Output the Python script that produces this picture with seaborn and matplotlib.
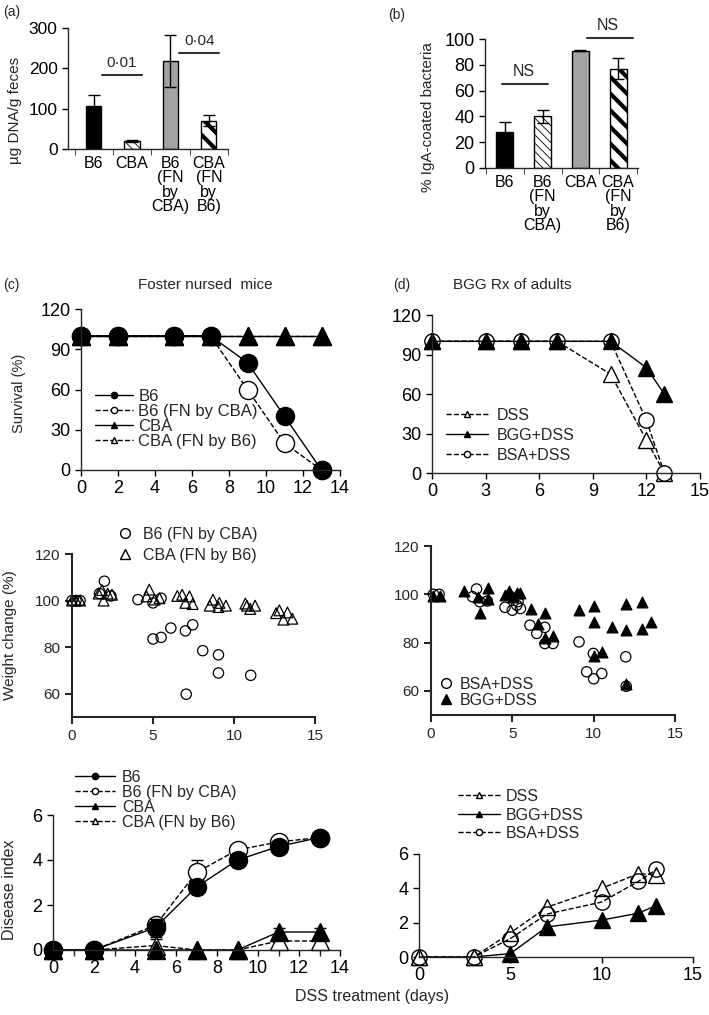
# plot.py
# Foster nursing / BGG figure: bars (a, b), survival, weight change and disease index

import matplotlib
matplotlib.use("Agg")
import matplotlib.pyplot as plt
from matplotlib.lines import Line2D
import seaborn as sns

sns.set_style("ticks")
plt.rcParams['font.family'] = ['Liberation Sans', 'DejaVu Sans']
plt.rcParams['axes.linewidth'] = 1.0

W, H = 709, 1015

# ---------------- data ----------------
# (a) bacterial DNA in feces
a_labels = ["B6", "CBA", "B6\n(FN\nby\nCBA)", "CBA\n(FN\nby\nB6)"]
a_values = [107, 20, 218, 70]
a_errors = [26, 3, 64, 14]

# (b) IgA-coated bacteria
b_labels = ["B6", "B6\n(FN\nby\nCBA)", "CBA", "CBA\n(FN\nby\nB6)"]
b_values = [28, 40, 91, 77]
b_errors = [8, 5, 0.6, 8]

# (c) survival, foster nursed mice
c_days = [0, 2, 5, 7, 9, 11, 13]
c_b6 = [100, 100, 100, 100, 80, 40, 0]
c_b6_fn = [100, 100, 100, 100, 60, 20, 0]
c_cba = [100, 100, 100, 100, 100, 100, 100]
c_cba_fn = [100, 100, 100, 100, 100, 100, 100]

# (d) survival, BGG treatment of adults
d_days = [0, 3, 5, 7, 10, 12, 13]
d_dss = [100, 100, 100, 100, 75, 25, 0]
d_bgg = [100, 100, 100, 100, 100, 80, 60]
d_bsa = [100, 100, 100, 100, 100, 40, 0]

# weight change, foster nursed (individual mice)
wl_circ_x = [0, 0.25, 0.5, 1.7, 2.0, 2.4, 4.07, 5.0, 5.0, 5.5, 5.5, 6.1, 7.0, 7.45, 7.05,
             8.07, 9.04, 9.04, 11.03]
wl_circ_y = [100, 100, 100, 103, 108.3, 102, 100.4, 99, 83.5, 84.2, 101, 88.2, 87.0, 89.6, 59.8,
             78.5, 76.7, 68.9, 67.9]
wl_tri_x = [0, 0.25, 0.5, 1.64, 1.85, 1.95, 2.2, 2.47, 4.6, 4.77, 5.1, 5.4, 6.5, 6.8, 7.0,
            7.25, 7.45, 8.5, 8.7, 9.04, 9.1, 9.5, 10.7, 10.8, 11.0, 11.3, 12.6, 12.8, 13.05,
            13.3, 13.6]
wl_tri_y = [100, 100, 100, 103, 104.5, 100, 103, 102.5, 101.8, 104.7, 100.4, 101, 102, 102.5, 99,
            101.8, 98.5, 97.8, 100.4, 97.2, 99, 97.8, 98.7, 97.8, 96.4, 97.8, 94.6, 95.8, 91.8,
            94.9, 92.2]

# weight change, BGG / BSA treated adults
wr_bsa_x = [0.15, 0.5, 2.55, 2.8, 3.0, 3.46, 4.55, 5.0, 5.27, 5.35, 5.5, 6.08, 6.5, 7.0, 7.0,
            7.5, 9.1, 9.57, 9.98, 10.0, 10.5, 11.97, 12.0]
wr_bsa_y = [100, 100, 99, 102.2, 96.9, 97.2, 94.6, 93.4, 95.5, 97, 94.1, 87.2, 83.8, 86.3, 79.6,
            79.6, 80.3, 67.9, 75.5, 65.0, 67.2, 74.1, 61.9]
wr_bgg_x = [0.15, 0.55, 2.05, 2.9, 3.0, 3.48, 3.5, 4.55, 4.77, 5.02, 5.27, 5.5, 6.13, 6.6, 7.03,
            7.03, 7.48, 9.08, 10.04, 10.04, 10.04, 10.5, 11.1, 11.97, 11.97, 11.97, 13.0, 13.0,
            13.5]
wr_bgg_y = [99.3, 99.3, 101.3, 99, 92.3, 97.9, 102.7, 99.7, 101.5, 99, 100.6, 100.4, 93.7, 87.5,
            92.1, 82.1, 82.8, 93.4, 95.1, 88.6, 74.4, 75.9, 86.5, 95.9, 85.1, 63.0, 96.9, 85.8,
            88.6]

# disease index, foster nursed
dl_days = [0, 2, 5, 7, 9, 11, 13]
dl_b6 = [0, 0, 1.0, 2.8, 4.0, 4.6, 5.0]
dl_b6_err = [0, 0, 0.4, 0.3, 0.2, 0.1, 0]
dl_b6_fn = [0, 0, 1.1, 3.45, 4.45, 4.8, 5.0]
dl_b6_fn_err = [0, 0, 0.3, 0.55, 0.2, 0.1, 0]
dl_cba = [0, 0, 0, 0, 0, 0.8, 0.8]
dl_cba_err = [0, 0, 0, 0, 0, 0.2, 0.2]
dl_cba_fn = [0, 0, 0.2, 0, 0, 0.4, 0.4]
dl_cba_fn_err = [0, 0, 0.3, 0, 0, 0.2, 0.2]

# disease index, BGG treated adults
dr_days = [0, 3, 5, 7, 10, 12, 13]
dr_dss = [0, 0, 1.4, 2.9, 4.0, 4.85, 4.8]
dr_bgg = [0, 0, 0.2, 1.75, 2.15, 2.55, 3.0]
dr_bsa = [0, 0, 1.07, 2.5, 3.2, 4.4, 5.1]


def rect(l, t, r, b):
    return [l / W, 1 - b / H, (r - l) / W, (b - t) / H]


def fx(px):
    return px / W


def fy(py):
    return 1 - py / H


def clean(ax):
    sns.despine(ax=ax)
    ax.tick_params(direction='out', length=4, width=1, colors='black')


def handle(marker, fill, ls, ms=4.5):
    return Line2D([], [], color='black', lw=1, linestyle=ls, marker=marker, markersize=ms,
                  markerfacecolor=fill, markeredgecolor='black')


def put_legend(ax, handles, names, x, y, **kw):
    ax.legend(handles, names, loc='upper left', bbox_to_anchor=(fx(x), fy(y)),
              bbox_transform=fig.transFigure, frameon=False, borderaxespad=0, borderpad=0, **kw)


fig = plt.figure(figsize=(W / 100, H / 100), dpi=100)

# ---------------- (a) ----------------
ax_a = fig.add_axes(rect(68, 28, 228, 149))
sns.barplot(x=a_labels, y=a_values, hue=a_labels, palette=['black', 'white', '#a3a3a3', 'white'],
            legend=False, width=0.4, edgecolor='black', linewidth=1, saturation=1, ax=ax_a)
ax_a.errorbar(range(4), a_values, yerr=a_errors, fmt='none', ecolor='black', elinewidth=1,
              capsize=4, capthick=1)
for p, h, lw in zip(ax_a.patches, ['', '\\\\\\\\', '', '\\\\'], [0.6, 0.6, 0.6, 3.0]):
    p.set_hatch(h)
    if hasattr(p, 'set_hatch_linewidth'):
        p.set_hatch_linewidth(lw)
ax_a.set_xlim(-0.67, 3.5)
ax_a.set_ylim(0, 300)
ax_a.set_yticks([0, 100, 200, 300])
clean(ax_a)
ax_a.set_xticks([-0.5, 0.5, 1.5, 2.5, 3.5], minor=True)
ax_a.tick_params(axis='x', which='major', length=0, pad=5, labelsize=11.5)
ax_a.tick_params(axis='x', which='minor', length=4, direction='out')
ax_a.tick_params(axis='y', labelsize=12.5)
for lab in ax_a.get_xticklabels():
    lab.set_linespacing(0.95)
ax_a.set_xlabel('')
ax_a.set_ylabel('')
ax_a.plot([0.21, 1.25], [184, 184], color='#333333', lw=1.5)
ax_a.text(0.73, 196, '0·01', ha='center', va='bottom', fontsize=11)
ax_a.plot([2.23, 3.27], [238, 238], color='#333333', lw=1.5, clip_on=False)
ax_a.text(2.75, 250, '0·04', ha='center', va='bottom', fontsize=11)
fig.text(fx(15), fy(110), 'µg DNA/g feces', rotation=90, ha='center', va='center', fontsize=11)
fig.text(fx(3), fy(12), '(a)', ha='left', va='center', fontsize=10)

# ---------------- (b) ----------------
ax_b = fig.add_axes(rect(485, 39, 638, 168))
sns.barplot(x=b_labels, y=b_values, hue=b_labels, palette=['black', 'white', '#a3a3a3', 'white'],
            legend=False, width=0.45, edgecolor='black', linewidth=1, saturation=1, ax=ax_b)
ax_b.errorbar(range(4), b_values, yerr=b_errors, fmt='none', ecolor='black', elinewidth=1,
              capsize=4, capthick=1)
for p, h, lw in zip(ax_b.patches, ['', '\\\\\\\\', '', '\\\\'], [0.6, 0.6, 0.6, 3.0]):
    p.set_hatch(h)
    if hasattr(p, 'set_hatch_linewidth'):
        p.set_hatch_linewidth(lw)
ax_b.set_xlim(-0.53, 3.53)
ax_b.set_ylim(0, 100)
ax_b.set_yticks(range(0, 101, 20))
clean(ax_b)
ax_b.set_xticks([-0.5, 0.5, 1.5, 2.5, 3.5], minor=True)
ax_b.tick_params(axis='x', which='major', length=0, pad=5, labelsize=11.5)
ax_b.tick_params(axis='x', which='minor', length=4, direction='out')
ax_b.tick_params(axis='y', labelsize=13)
for lab in ax_b.get_xticklabels():
    lab.set_linespacing(0.95)
ax_b.set_xlabel('')
ax_b.set_ylabel('')
ax_b.plot([-0.08, 1.14], [65, 65], color='#333333', lw=1.5)
ax_b.text(0.5, 69, 'NS', ha='center', va='bottom', fontsize=11.5)
ax_b.plot([2.17, 3.4], [101, 101], color='#333333', lw=1.5, clip_on=False)
ax_b.text(2.73, 105, 'NS', ha='center', va='bottom', fontsize=11.5)
fig.text(fx(428), fy(117), '% IgA-coated bacteria', rotation=90, ha='center', va='center',
         fontsize=11)
fig.text(fx(388), fy(15), '(b)', ha='left', va='center', fontsize=10)

# ---------------- (c) survival ----------------
ax_c = fig.add_axes(rect(81, 309, 340, 470))
line_kw = dict(color='black', linewidth=1, markeredgecolor='black', markeredgewidth=1,
               clip_on=False)
sns.lineplot(x=c_days, y=c_cba_fn, marker='^', markersize=13, markerfacecolor='white',
             linestyle='--', ax=ax_c, **line_kw)
sns.lineplot(x=c_days, y=c_cba, marker='^', markersize=13, markerfacecolor='black',
             linestyle='-', ax=ax_c, **line_kw)
sns.lineplot(x=c_days, y=c_b6_fn, marker='o', markersize=13, markerfacecolor='white',
             linestyle='--', ax=ax_c, **line_kw)
sns.lineplot(x=c_days, y=c_b6, marker='o', markersize=13, markerfacecolor='black',
             linestyle='-', ax=ax_c, **line_kw)
ax_c.set_xlim(0, 14)
ax_c.set_ylim(0, 120)
ax_c.set_xticks(range(0, 15, 2))
ax_c.set_yticks(range(0, 121, 30))
clean(ax_c)
ax_c.tick_params(labelsize=13)
ax_c.set_ylabel('')

fn_handles = [handle('o', 'black', '-'), handle('o', 'white', '--'),
              handle('^', 'black', '-'), handle('^', 'white', '--')]
fn_names = ['B6', 'B6 (FN by CBA)', 'CBA', 'CBA (FN by B6)']
put_legend(ax_c, fn_handles, fn_names, 95, 389, handlelength=2.3, handletextpad=0.3,
           labelspacing=0.0, fontsize=12)
fig.text(fx(205), fy(285), 'Foster nursed  mice', ha='center', va='center', fontsize=11)
fig.text(fx(3), fy(285), '(c)', ha='left', va='center', fontsize=10)
fig.text(fx(19), fy(393), 'Survival (%)', rotation=90, ha='center', va='center', fontsize=10.5)

# ---------------- (d) survival ----------------
ax_d = fig.add_axes(rect(432, 315, 700, 473))
sns.lineplot(x=d_days, y=d_dss, marker='^', markersize=11, markerfacecolor='white',
             linestyle='--', ax=ax_d, **line_kw)
sns.lineplot(x=d_days, y=d_bsa, marker='o', markersize=11, markerfacecolor='white',
             linestyle='--', ax=ax_d, **line_kw)
sns.lineplot(x=d_days, y=d_bgg, marker='^', markersize=11, markerfacecolor='black',
             linestyle='-', ax=ax_d, **line_kw)
ax_d.set_xlim(0, 15)
ax_d.set_ylim(0, 120)
ax_d.set_xticks(range(0, 16, 3))
ax_d.set_yticks(range(0, 121, 30))
clean(ax_d)
ax_d.tick_params(labelsize=13)
ax_d.set_ylabel('')
bgg_handles = [handle('^', 'white', '--'), handle('^', 'black', '-'), handle('o', 'white', '--')]
bgg_names = ['DSS', 'BGG+DSS', 'BSA+DSS']
put_legend(ax_d, bgg_handles, bgg_names, 446, 408, handlelength=2.6, handletextpad=0.56,
           labelspacing=0.31, fontsize=11.5)
fig.text(fx(512), fy(285), 'BGG Rx of adults', ha='center', va='center', fontsize=11)
fig.text(fx(393), fy(285), '(d)', ha='left', va='center', fontsize=10)

# ---------------- weight change (left) ----------------
ax_wl = fig.add_axes(rect(72, 554, 315, 717))
sns.scatterplot(x=wl_circ_x, y=wl_circ_y, marker='o', s=55, color='black', facecolor='none',
                edgecolor='black', linewidth=0.9, ax=ax_wl, clip_on=False)
sns.scatterplot(x=wl_tri_x, y=wl_tri_y, marker='^', s=60, color='black', facecolor='none',
                edgecolor='black', linewidth=0.9, ax=ax_wl, clip_on=False)
ax_wl.set_xlim(0, 15)
ax_wl.set_ylim(50, 120)
ax_wl.set_xticks([0, 5, 10, 15])
ax_wl.set_yticks([60, 80, 100, 120])
sns.despine(ax=ax_wl)
for s in ['left', 'bottom']:
    ax_wl.spines[s].set_linewidth(1.5)
ax_wl.tick_params(direction='out', length=5, width=1.5, labelsize=11)
wl_handles = [Line2D([], [], linestyle='', marker='o', markersize=7, markerfacecolor='none',
                     markeredgecolor='black'),
              Line2D([], [], linestyle='', marker='^', markersize=7, markerfacecolor='none',
                     markeredgecolor='black')]
put_legend(ax_wl, wl_handles, ['B6 (FN by CBA)', 'CBA (FN by B6)'], 119, 527,
           handlelength=0.75, handletextpad=0.75, labelspacing=0.37, fontsize=11.5)
fig.text(fx(10), fy(635), 'Weight change (%)', rotation=90, ha='center', va='center',
         fontsize=11)

# ---------------- weight change (right) ----------------
ax_wr = fig.add_axes(rect(431, 546, 675, 715))
sns.scatterplot(x=wr_bsa_x, y=wr_bsa_y, marker='o', s=55, color='black', facecolor='none',
                edgecolor='black', linewidth=0.9, ax=ax_wr, clip_on=False)
sns.scatterplot(x=wr_bgg_x, y=wr_bgg_y, marker='^', s=60, color='black', edgecolor='black',
                linewidth=0.9, ax=ax_wr, clip_on=False)
ax_wr.set_xlim(0, 15)
ax_wr.set_ylim(50, 120)
ax_wr.set_xticks([0, 5, 10, 15])
ax_wr.set_yticks([60, 80, 100, 120])
sns.despine(ax=ax_wr)
for s in ['left', 'bottom']:
    ax_wr.spines[s].set_linewidth(1.5)
ax_wr.tick_params(direction='out', length=5, width=1.5, labelsize=11)
wr_handles = [Line2D([], [], linestyle='', marker='o', markersize=7, markerfacecolor='none',
                     markeredgecolor='black'),
              Line2D([], [], linestyle='', marker='^', markersize=7, markerfacecolor='black',
                     markeredgecolor='black')]
put_legend(ax_wr, wr_handles, ['BSA+DSS', 'BGG+DSS'], 440, 677,
           handlelength=0.75, handletextpad=0.5, labelspacing=0.06, fontsize=11.5)

# ---------------- disease index (left) ----------------
ax_dl = fig.add_axes(rect(53, 815, 340, 950))
series_dl = [(dl_cba_fn, dl_cba_fn_err, '^', 'white', '--'),
             (dl_cba, dl_cba_err, '^', 'black', '-'),
             (dl_b6_fn, dl_b6_fn_err, 'o', 'white', '--'),
             (dl_b6, dl_b6_err, 'o', 'black', '-')]
for vals, errs, mk, fill, ls in series_dl:
    ax_dl.errorbar(dl_days, vals, yerr=errs, fmt='none', ecolor='black', elinewidth=1,
                   capsize=4, clip_on=False)
    sns.lineplot(x=dl_days, y=vals, marker=mk, markersize=13, markerfacecolor=fill,
                 linestyle=ls, ax=ax_dl, **line_kw)
ax_dl.set_xlim(0, 14)
ax_dl.set_ylim(0, 6)
ax_dl.set_xticks(range(0, 15, 2))
ax_dl.set_xticks(range(0, 15), minor=True)
ax_dl.set_yticks([0, 2, 4, 6])
clean(ax_dl)
ax_dl.tick_params(which='minor', direction='out', length=4, width=1)
ax_dl.tick_params(labelsize=13)
ax_dl.set_ylabel('')
put_legend(ax_dl, fn_handles, fn_names, 75, 770, handlelength=2.5, handletextpad=0.44,
           labelspacing=0.0, fontsize=11.5)
fig.text(fx(10), fy(890), 'Disease index', rotation=90, ha='center', va='center', fontsize=11.5)

# ---------------- disease index (right) ----------------
ax_dr = fig.add_axes(rect(419, 854, 693, 957))
sns.lineplot(x=dr_days, y=dr_bgg, marker='^', markersize=11, markerfacecolor='black',
             linestyle='-', ax=ax_dr, **line_kw)
sns.lineplot(x=dr_days, y=dr_dss, marker='^', markersize=11, markerfacecolor='white',
             linestyle='--', ax=ax_dr, **line_kw)
sns.lineplot(x=dr_days, y=dr_bsa, marker='o', markersize=11, markerfacecolor='none',
             linestyle='--', ax=ax_dr, **line_kw)
ax_dr.set_xlim(0, 15)
ax_dr.set_ylim(0, 6)
ax_dr.set_xticks([0, 5, 10, 15])
ax_dr.set_yticks([0, 2, 4, 6])
clean(ax_dr)
ax_dr.tick_params(labelsize=13)
ax_dr.set_ylabel('')
put_legend(ax_dr, bgg_handles, bgg_names, 458, 789, handlelength=2.6, handletextpad=0.37,
           labelspacing=0.22, fontsize=11.5)

fig.text(fx(372), fy(997), 'DSS treatment (days)', ha='center', va='center', fontsize=11.5)

fig.savefig('out.png', dpi=100)
